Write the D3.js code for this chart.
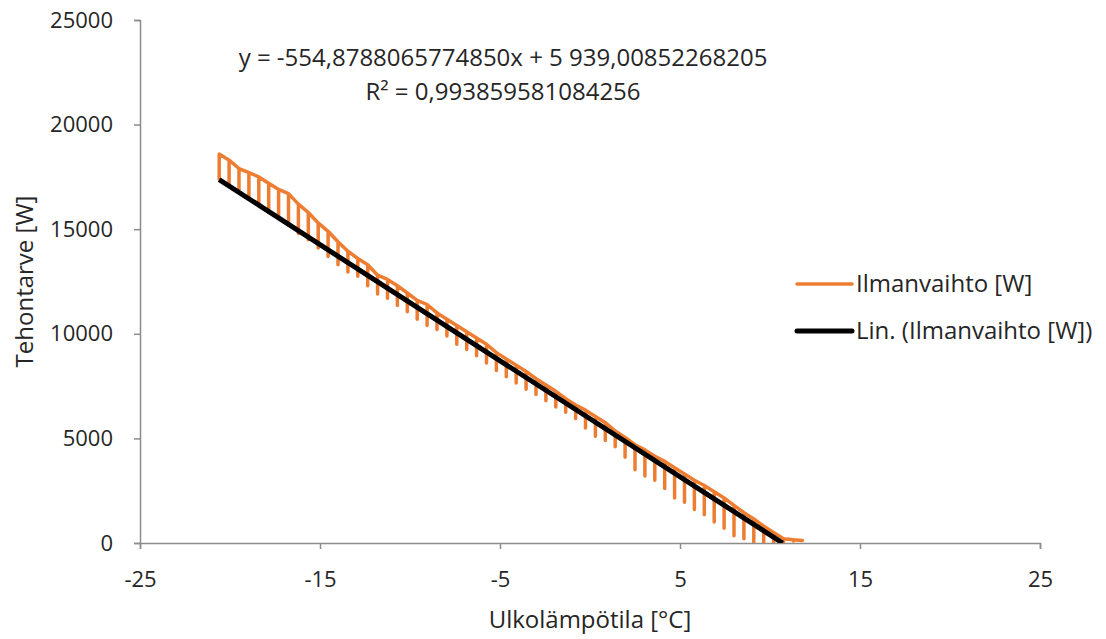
<!DOCTYPE html>
<html>
<head>
<meta charset="utf-8">
<script src="https://cdn.jsdelivr.net/npm/d3@7"></script>
<style>
  html, body { margin: 0; padding: 0; background: #fff; }
  svg { display: block; font-family: "Open Sans", "Liberation Sans", sans-serif; }
</style>
</head>
<body>
<svg id="chart" width="1106" height="639"></svg>
<script>
// ---- data ----
const temps = [-20.6,-20.05,-19.5,-18.95,-18.4,-17.85,-17.3,-16.75,-16.2,-15.65,
  -15.1,-14.55,-14.0,-13.45,-12.9,-12.35,-11.8,-11.25,-10.7,-10.15,
  -9.6,-9.05,-8.5,-7.95,-7.4,-6.85,-6.3,-5.75,-5.2,-4.65,
  -4.1,-3.55,-3.0,-2.45,-1.9,-1.35,-0.8,-0.25,0.3,0.85,
  1.4,1.95,2.5,3.05,3.6,4.15,4.7,5.25,5.8,6.35,
  6.9,7.45,8.0,8.55,9.1,9.65,10.2,10.75,11.3,11.8];
const upperValues = [18600,18300,17900,17700,17500,17200,16900,16700,16200,15800,
  15300,14900,14400,13950,13600,13300,12800,12600,12300,11950,
  11600,11400,11000,10700,10400,10100,9800,9500,9100,8800,
  8500,8200,7850,7550,7250,6900,6600,6350,6050,5750,
  5350,5050,4700,4450,4150,3900,3600,3300,3000,2750,
  2450,2150,1800,1450,1150,800,500,200,150,120];
const lowerValues = [17400,17100,16900,16500,16200,15800,15500,15200,14800,14500,
  14100,13700,13300,12950,12750,12300,11900,11700,11350,11050,
  10700,10400,10200,9900,9500,9250,8950,8600,8250,7950,
  7650,7350,7100,6800,6500,6250,5950,5500,5100,4900,
  4600,4100,3500,3200,3000,2600,2150,1950,1600,1350,
  1000,700,350,200,50,0,0,50,100,120];
const xTicks = [-25,-15,-5,5,15,25];
const yTicks = [0,5000,10000,15000,20000,25000];
const trendSlope = -554.8788065774850;
const trendIntercept = 5939.00852268205;
const equationLines = ["y = -554,8788065774850x + 5 939,00852268205", "R² = 0,993859581084256"];
const seriesNames = ["Ilmanvaihto [W]", "Lin. (Ilmanvaihto [W])"];
const xTitle = "Ulkolämpötila [°C]";
const yTitle = "Tehontarve [W]";

// ---- layout ----
const svg = d3.select("#chart");
const plot = {left: 140, right: 1040, top: 20, bottom: 543};
const x = d3.scaleLinear().domain([-25, 25]).range([plot.left, plot.right]);
const y = d3.scaleLinear().domain([0, 25000]).range([plot.bottom, plot.top]);
const orange = "#ED7D31";
const axisGray = "#8c8c8c";
const textColor = "#262626";

svg.append("defs").append("clipPath").attr("id", "clip")
  .append("rect").attr("x", plot.left).attr("y", plot.top - 5)
  .attr("width", plot.right - plot.left + 5).attr("height", plot.bottom - plot.top + 5);

// axes
const yAxis = svg.append("g").attr("transform", `translate(${plot.left},0)`)
  .call(d3.axisLeft(y).tickValues(yTicks).tickSize(6).tickPadding(21).tickFormat(d3.format("d")));
const xAxis = svg.append("g").attr("transform", `translate(0,${plot.bottom})`)
  .call(d3.axisBottom(x).tickValues(xTicks).tickSize(6).tickPadding(22).tickFormat(d => d));
[yAxis, xAxis].forEach(g => {
  g.select(".domain").attr("stroke", axisGray).attr("stroke-width", 1.5);
  g.selectAll(".tick line").attr("stroke", axisGray).attr("stroke-width", 1.5);
  g.selectAll(".tick text").attr("fill", textColor).attr("font-size", 22)
    .attr("font-family", "'Open Sans', sans-serif");
});
xAxis.selectAll(".tick text").attr("dy", "0.71em");

// orange series: for each temperature the line goes top -> bottom -> top -> next
const pts = [];
temps.forEach((t, i) => {
  pts.push([t, upperValues[i]]);
  pts.push([t, lowerValues[i]]);
  pts.push([t, upperValues[i]]);
});
const line = d3.line().x(d => x(d[0])).y(d => y(d[1])).curve(d3.curveLinear);
const g = svg.append("g").attr("clip-path", "url(#clip)");
g.append("path").datum(pts).attr("d", line)
  .attr("fill", "none").attr("stroke", orange).attr("stroke-width", 3.5)
  .attr("stroke-linejoin", "round").attr("stroke-linecap", "round");

// trend line (clipped at y = 0)
const tStart = d3.min(temps);
const tEnd = Math.min(d3.max(temps), -trendIntercept / trendSlope);
const trendPts = [[tStart, trendSlope * tStart + trendIntercept], [tEnd, trendSlope * tEnd + trendIntercept]];
g.append("path").datum(trendPts).attr("d", line)
  .attr("fill", "none").attr("stroke", "#000").attr("stroke-width", 5)
  .attr("stroke-linecap", "butt");

// equation
svg.append("g").selectAll("text").data(equationLines).join("text")
  .attr("x", 503).attr("y", (d, i) => 66 + i * 34)
  .attr("text-anchor", "middle").attr("font-size", 24).attr("fill", textColor)
  .text(d => d);

// axis titles
svg.append("text").attr("x", (plot.left + plot.right) / 2).attr("y", 628)
  .attr("text-anchor", "middle").attr("font-size", 24).attr("fill", textColor).text(xTitle);
svg.append("text").attr("transform", `translate(33,${(plot.top + plot.bottom) / 2}) rotate(-90)`)
  .attr("text-anchor", "middle").attr("font-size", 24).attr("fill", textColor).text(yTitle);

// legend
const legend = svg.append("g");
const legendItems = [
  {name: seriesNames[0], color: orange, width: 3.5, y: 284},
  {name: seriesNames[1], color: "#000", width: 5, y: 331}
];
legendItems.forEach(it => {
  legend.append("line").attr("x1", 797).attr("x2", 852).attr("y1", it.y).attr("y2", it.y)
    .attr("stroke", it.color).attr("stroke-width", it.width).attr("stroke-linecap", "round");
  legend.append("text").attr("x", 856).attr("y", it.y).attr("dy", "0.35em")
    .attr("font-size", 24).attr("fill", textColor).text(it.name);
});
</script>
</body>
</html>
